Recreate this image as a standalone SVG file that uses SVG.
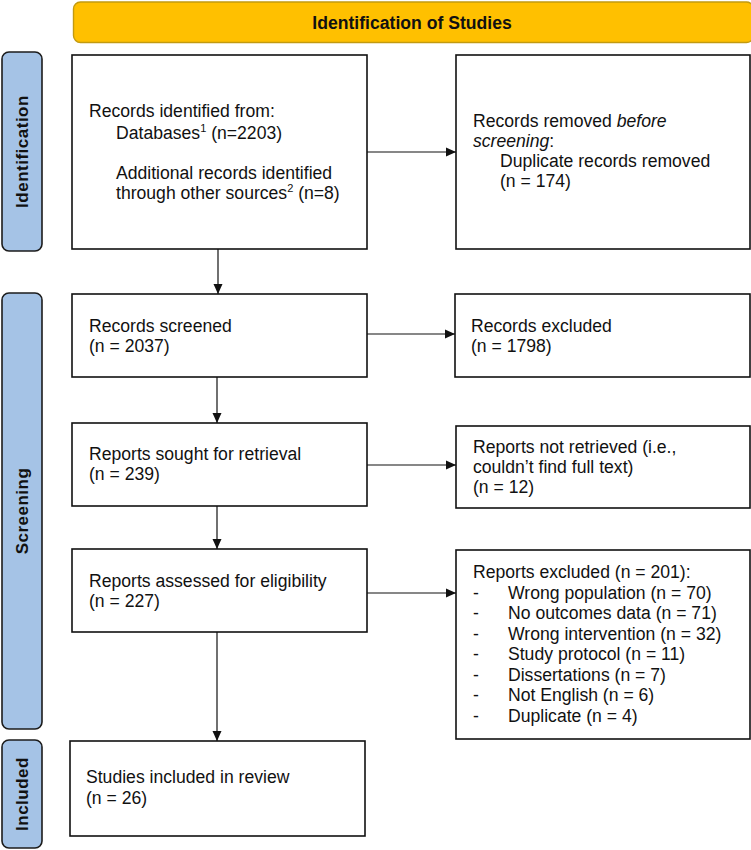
<svg xmlns="http://www.w3.org/2000/svg" width="751" height="850" viewBox="0 0 751 850">
<style>
text{font-family:"Liberation Sans",Arial,sans-serif;font-size:17.6px;fill:#111}
.box{fill:#fff;stroke:#111;stroke-width:1.6}
.side{fill:#a5c3e6;stroke:#1c1c1c;stroke-width:1.6}
.stxt{font-weight:bold;font-size:17px;letter-spacing:0.5px;text-anchor:middle}
.con{stroke:#111;stroke-width:1.2;fill:none;marker-end:url(#ah)}
</style>
<defs>
<marker id="ah" viewBox="0 0 10 10" refX="10" refY="5" markerWidth="10" markerHeight="10" markerUnits="userSpaceOnUse" orient="auto">
<path d="M0,0.5 L10,5 L0,9.5 Z" fill="#111"/>
</marker>
</defs>
<g id="header">
<rect x="73.5" y="2" width="680" height="40.5" rx="7" fill="#ffc000" stroke="#c29a10" stroke-width="1.4"/>
<text x="412" y="29" style="font-weight:bold;font-size:17.6px" text-anchor="middle">Identification of Studies</text>
</g>
<g id="side-identification">
<rect class="side" x="2" y="52" width="40" height="199" rx="7"/>
<text class="stxt" transform="translate(28,151.5) rotate(-90)">Identification</text>
</g>
<g id="side-screening">
<rect class="side" x="2" y="293" width="40" height="436" rx="7"/>
<text class="stxt" transform="translate(28,511) rotate(-90)">Screening</text>
</g>
<g id="side-included">
<rect class="side" x="2" y="740" width="40" height="108" rx="7"/>
<text class="stxt" transform="translate(28,794) rotate(-90)">Included</text>
</g>
<g id="n-identified">
<rect class="box" x="72" y="55" width="295" height="194"/>
<text x="89" y="117">Records identified from:</text>
<text x="116" y="139">Databases<tspan dy="-7" font-size="11">1</tspan><tspan dy="7"> (n=2203)</tspan></text>
<text x="116" y="179">Additional records identified</text>
<text x="116" y="199">through other sources<tspan dy="-7" font-size="11">2</tspan><tspan dy="7"> (n=8)</tspan></text>
</g>
<g id="n-removed">
<rect class="box" x="456" y="55" width="294" height="194"/>
<text x="473" y="127">Records removed <tspan font-style="italic">before</tspan></text>
<text x="473" y="147"><tspan font-style="italic">screening</tspan>:</text>
<text x="500" y="167">Duplicate records removed</text>
<text x="500" y="187">(n = 174)</text>
</g>
<g id="n-screened">
<rect class="box" x="72" y="294" width="295" height="83"/>
<text x="89" y="332">Records screened</text>
<text x="89" y="352">(n = 2037)</text>
</g>
<g id="n-excluded">
<rect class="box" x="455" y="294" width="295" height="83"/>
<text x="471" y="332">Records excluded</text>
<text x="471" y="352">(n = 1798)</text>
</g>
<g id="n-sought">
<rect class="box" x="72" y="423" width="295" height="83"/>
<text x="89" y="460">Reports sought for retrieval</text>
<text x="89" y="480">(n = 239)</text>
</g>
<g id="n-notretrieved">
<rect class="box" x="456" y="426" width="294" height="82"/>
<text x="473" y="453">Reports not retrieved (i.e.,</text>
<text x="473" y="473">couldn’t find full text)</text>
<text x="473" y="493">(n = 12)</text>
</g>
<g id="n-assessed">
<rect class="box" x="72" y="549" width="295" height="83"/>
<text x="89" y="587">Reports assessed for eligibility</text>
<text x="89" y="607">(n = 227)</text>
</g>
<g id="n-reportsexcluded">
<rect class="box" x="456" y="550" width="294" height="189"/>
<text x="473" y="578">Reports excluded (n = 201):</text>
<text x="473" y="599">-</text><text x="508" y="599">Wrong population (n = 70)</text>
<text x="473" y="619">-</text><text x="508" y="619">No outcomes data (n = 71)</text>
<text x="473" y="640">-</text><text x="508" y="640">Wrong intervention (n = 32)</text>
<text x="473" y="660">-</text><text x="508" y="660">Study protocol (n = 11)</text>
<text x="473" y="681">-</text><text x="508" y="681">Dissertations (n = 7)</text>
<text x="473" y="701">-</text><text x="508" y="701">Not English (n = 6)</text>
<text x="473" y="722">-</text><text x="508" y="722">Duplicate (n = 4)</text>
</g>
<g id="n-included">
<rect class="box" x="70" y="741" width="295" height="95"/>
<text x="86" y="783">Studies included in review</text>
<text x="86" y="804">(n = 26)</text>
</g>
<g id="connectors">
<path class="con" d="M367,152 H456"/>
<path class="con" d="M218,249 V294"/>
<path class="con" d="M367,334 H455"/>
<path class="con" d="M217,377 V423"/>
<path class="con" d="M367,465 H456"/>
<path class="con" d="M217,506 V549"/>
<path class="con" d="M367,593 H456"/>
<path class="con" d="M217,632 V741"/>
</g>
</svg>
